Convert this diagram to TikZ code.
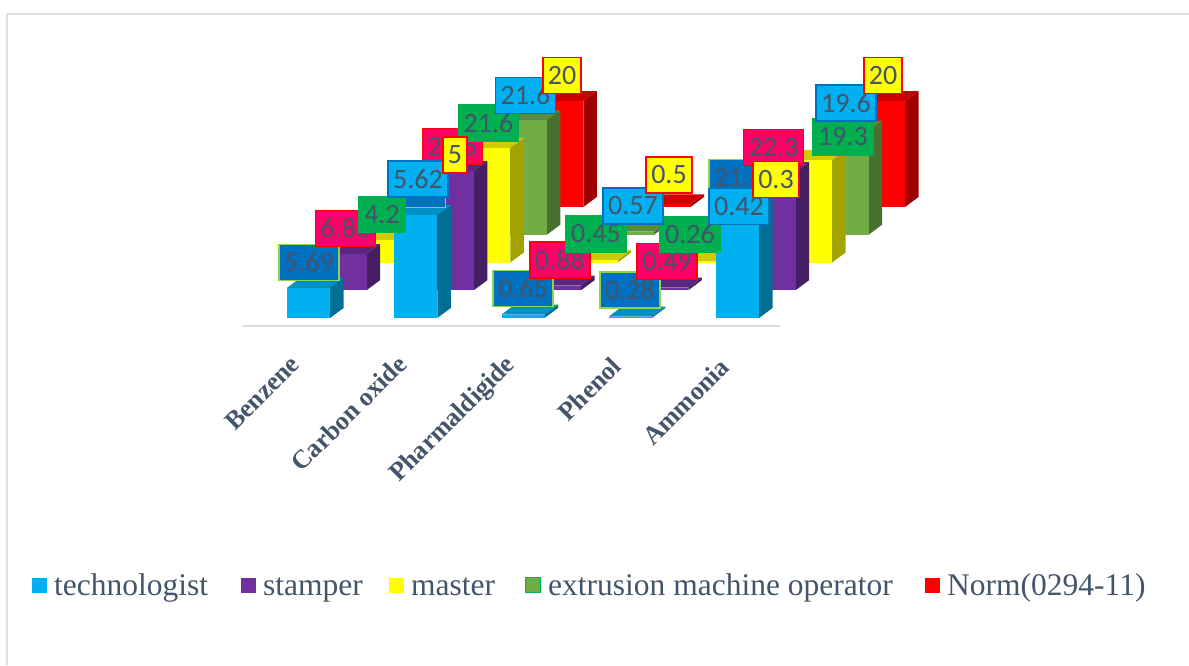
\documentclass[tikz,border=0pt]{standalone}
\usepackage{fontspec}
\setmainfont{Liberation Serif}
\newfontfamily\lblfont{Carlito}
\usetikzlibrary{calc}

\definecolor{techfront}{HTML}{00B0F0}
\definecolor{techtop}{HTML}{0090C4}
\definecolor{techside}{HTML}{006F96}
\definecolor{stampfront}{HTML}{7030A0}
\definecolor{stamptop}{HTML}{5A2682}
\definecolor{stampside}{HTML}{461E63}
\definecolor{mastfront}{HTML}{FFFF00}
\definecolor{masttop}{HTML}{CCCC00}
\definecolor{mastside}{HTML}{A3A300}
\definecolor{extrfront}{HTML}{70AD47}
\definecolor{extrtop}{HTML}{5A8B39}
\definecolor{extrside}{HTML}{48702E}
\definecolor{normfront}{HTML}{FF0000}
\definecolor{normtop}{HTML}{CC0000}
\definecolor{normside}{HTML}{A00000}
\definecolor{lbldb}{HTML}{0070C0}
\definecolor{lblpink}{HTML}{FF0066}
\definecolor{lblgreen}{HTML}{00B050}
\definecolor{lbllime}{HTML}{92D050}
\definecolor{slate}{HTML}{44546A}
\definecolor{framegray}{HTML}{DCE1E7}
\definecolor{axisgray}{HTML}{D9D9D9}

\tikzset{
  datalbl/.style={font=\lblfont\fontsize{28}{28}\selectfont, text=slate,
    inner xsep=5pt, inner ysep=0pt, minimum height=36pt, line width=1.6pt},
  dblbl/.style={datalbl, fill=lbldb, draw=lbllime},
  pklbl/.style={datalbl, fill=lblpink, draw=normfront},
  grlbl/.style={datalbl, fill=lblgreen, draw=lblgreen},
  lblbl/.style={datalbl, fill=techfront, draw=lbldb},
  yllbl/.style={datalbl, fill=mastfront, draw=normfront},
  catlbl/.style={font=\bfseries\fontsize{26}{26}\selectfont, text=slate,
    rotate=45, anchor=base east, inner sep=0pt},
  keylbl/.style={font=\fontsize{31.5}{31.5}\selectfont, text=slate,
    anchor=base west, inner sep=0pt},
  keybox/.style={minimum size=15pt, inner sep=0pt, line width=1pt},
}

% one 3d bar: #1 category, #2 series (depth), #3 value, #4 colour prefix
\newcommand{\barblock}[4]{%
  \pgfmathsetmacro{\barx}{287+107.25*#1+36.5*#2}
  \pgfmathsetmacro{\bary}{318-27.75*#2}
  \pgfmathsetmacro{\bartop}{\bary-5.3*#3}
  \fill[#4side] (\barx+43,\bary) -- (\barx+56.5,\bary-10) -- (\barx+56.5,\bartop-10) -- (\barx+43,\bartop) -- cycle;
  \fill[#4top] (\barx,\bartop) -- (\barx+43,\bartop) -- (\barx+56.5,\bartop-10) -- (\barx+13.5,\bartop-10) -- cycle;
  \fill[#4front] (\barx,\bary) rectangle (\barx+43,\bartop);
}

\begin{document}
\begin{tikzpicture}[x=1pt,y=-1pt]
  \useasboundingbox (0,0) rectangle (1189,665);
  \draw[framegray, line width=2pt] (6.5,665) -- (6.5,14) -- (1189,14);
  \draw[axisgray, line width=2pt] (243,326) -- (780,326);

  % Norm(0294-11)
  \barblock{0}{4}{5}{norm}
  \barblock{1}{4}{20}{norm}
  \barblock{2}{4}{0.5}{norm}
  \barblock{3}{4}{0.3}{norm}
  \barblock{4}{4}{20}{norm}
  % extrusion machine operator
  \barblock{0}{3}{5.62}{extr}
  \barblock{1}{3}{21.6}{extr}
  \barblock{2}{3}{0.57}{extr}
  \barblock{3}{3}{0.42}{extr}
  \barblock{4}{3}{19.6}{extr}
  % master
  \barblock{0}{2}{4.2}{mast}
  \barblock{1}{2}{21.6}{mast}
  \barblock{2}{2}{0.45}{mast}
  \barblock{3}{2}{0.26}{mast}
  \barblock{4}{2}{19.3}{mast}
  % stamper
  \barblock{0}{1}{6.83}{stamp}
  \barblock{1}{1}{22.5}{stamp}
  \barblock{2}{1}{0.88}{stamp}
  \barblock{3}{1}{0.49}{stamp}
  \barblock{4}{1}{22.3}{stamp}
  % technologist
  \barblock{0}{0}{5.69}{tech}
  \barblock{1}{0}{19.4}{tech}
  \barblock{2}{0}{0.65}{tech}
  \barblock{3}{0}{0.28}{tech}
  \barblock{4}{0}{21.4}{tech}

  % data labels
  \node[dblbl] (db-benz) at (309,262.5) {5.69};
  \node[dblbl, minimum width=58pt] (db-carb) at (416.5,189.5) {};
  \node[dblbl] (db-pharm) at (523,288.5) {0.65};
  \node[dblbl] (db-phen) at (630,290) {0.28};
  \node[dblbl] (db-ammo) at (739,177.5) {21.4};
  \node[pklbl] (pk-benz) at (345.5,228.5) {6.83};
  \node[pklbl] (pk-carb) at (452.5,146.5) {22.5};
  \node[pklbl] (pk-pharm) at (560,260) {0.88};
  \node[pklbl] (pk-phen) at (667,261.5) {0.49};
  \node[pklbl] (pk-ammo) at (773.5,147.5) {22.3};
  \node[grlbl] (gr-benz) at (382,214.5) {4.2};
  \node[grlbl] (gr-carb) at (488.5,123) {21.6};
  \node[grlbl] (gr-pharm) at (596,234) {0.45};
  \node[grlbl] (gr-phen) at (690,234.5) {0.26};
  \node[grlbl] (gr-ammo) at (843,137) {19.3};
  \node[lblbl] (lb-benz) at (418,179) {5.62};
  \node[lblbl] (lb-carb) at (525.5,95.5) {21.6};
  \node[lblbl] (lb-pharm) at (633,206) {0.57};
  \node[lblbl] (lb-phen) at (739,206.5) {0.42};
  \node[lblbl] (lb-ammo) at (846,103) {19.6};
  \node[yllbl] (yl-benz) at (455,155) {5};
  \node[yllbl] (yl-carb) at (562,75.5) {20};
  \node[yllbl] (yl-pharm) at (669,175) {0.5};
  \node[yllbl] (yl-phen) at (776,179.5) {0.3};
  \node[yllbl] (yl-ammo) at (883,75.5) {20};

  % categories
  \node[catlbl] (cat-benz) at (301,366) {Benzene};
  \node[catlbl] (cat-carb) at (408.5,366) {Carbon oxide};
  \node[catlbl] (cat-pharm) at (516,366) {Pharmaldigide};
  \node[catlbl] (cat-phen) at (623,368) {Phenol};
  \node[catlbl] (cat-ammo) at (731,369) {Ammonia};

  % legend
  \node[keybox, fill=techfront] (key-tech) at (39,585) {};
  \node[keylbl] (txt-tech) at (54,595) {technologist};
  \node[keybox, fill=stampfront] (key-stamp) at (248,585) {};
  \node[keylbl] (txt-stamp) at (263,595) {stamper};
  \node[keybox, fill=mastfront] (key-mast) at (396,585) {};
  \node[keylbl] (txt-mast) at (411,595) {master};
  \node[keybox, fill=extrfront, draw=lblgreen] (key-extr) at (533,585) {};
  \node[keylbl] (txt-extr) at (548,595) {extrusion machine operator};
  \node[keybox, fill=normfront] (key-norm) at (932,585) {};
  \node[keylbl] (txt-norm) at (947,595) {Norm(0294-11)};
\end{tikzpicture}
\end{document}
